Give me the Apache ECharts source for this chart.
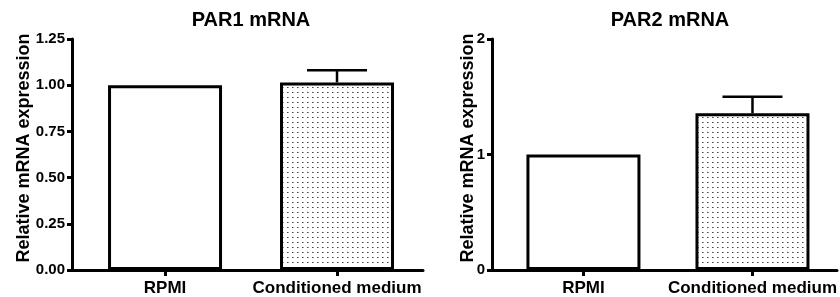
<!DOCTYPE html>
<html>
<head>
<meta charset="utf-8">
<script src="https://cdn.jsdelivr.net/npm/echarts@6/dist/echarts.min.js"></script>
<style>
html,body{margin:0;padding:0;background:#fff;}
#chart{width:840px;height:297px;}
</style>
</head>
<body>
<div id="chart"></div>
<script>
// ---- data ----
var categories = ['RPMI', 'Conditioned medium'];
var titles = ['PAR1 mRNA', 'PAR2 mRNA'];
var yAxisName = 'Relative mRNA expression';
var par1Means = [1.0, 1.015];
var par1Errs = [0, 0.066];
var par2Means = [1.0, 1.357];
var par2Errs = [0, 0.143];
var par1Ticks = { min: 0, max: 1.25, interval: 0.25, decimals: 2 };
var par2Ticks = { min: 0, max: 2, interval: 1, decimals: 0 };

// ---- dotted pattern ----
function makePattern() {
  var c = document.createElement('canvas');
  c.width = 5; c.height = 5;
  var ctx = c.getContext('2d');
  ctx.fillStyle = '#ffffff';
  ctx.fillRect(0, 0, 5, 5);
  ctx.fillStyle = '#444444';
  ctx.fillRect(2, 2, 1, 1);
  ctx.fillStyle = '#999999';
  ctx.fillRect(3, 2, 1, 1);
  return c;
}
var pattern = { image: makePattern(), repeat: 'repeat' };
var fills = ['#ffffff', pattern];

var FONT = "'Liberation Sans', Arial, sans-serif";

function barData(means) {
  return means.map(function (v, i) {
    return { value: [i, v], itemStyle: { color: fills[i] } };
  });
}
function errData(means, errs) {
  return means.map(function (v, i) { return [i, v, errs[i]]; });
}
function renderErr(params, api) {
  var x = api.value(0), m = api.value(1), e = api.value(2);
  if (!e) return null;
  var base = api.coord([x, m]);
  var top = api.coord([x, m + e]);
  var st = { stroke: '#000', lineWidth: 2.5 };
  return {
    type: 'group',
    children: [
      { type: 'line', shape: { x1: base[0], y1: base[1], x2: top[0], y2: top[1] }, style: st },
      { type: 'line', shape: { x1: top[0] - 30, y1: top[1], x2: top[0] + 30, y2: top[1] }, style: st }
    ]
  };
}

function xAxisDef(gridIndex) {
  return {
    type: 'value', gridIndex: gridIndex, min: -0.541, max: 1.5,
    splitLine: { show: false },
    axisLine: { show: true, onZero: false, lineStyle: { color: '#000', width: 3 } },
    axisTick: { show: true, customValues: [0, 1], length: 6, lineStyle: { color: '#000', width: 3 } },
    axisLabel: {
      customValues: [0, 1], margin: 10,
      formatter: function (v) { return categories[Math.round(v)]; },
      color: '#000', fontSize: 17, fontWeight: 'bold', fontFamily: FONT
    }
  };
}
function yAxisDef(gridIndex, t, nameGap) {
  return {
    type: 'value', gridIndex: gridIndex, min: t.min, max: t.max, interval: t.interval,
    name: yAxisName, nameLocation: 'middle', nameGap: nameGap, nameMoveOverlap: false,
    nameTextStyle: { color: '#000', fontSize: 18, fontWeight: 'bold', fontFamily: FONT, padding: [0, 0, 0, 13] },
    splitLine: { show: false },
    axisLine: { show: true, onZero: false, lineStyle: { color: '#000', width: 3 } },
    axisTick: { show: true, length: 5, lineStyle: { color: '#000', width: 3 } },
    axisLabel: {
      margin: 7,
      formatter: function (v) { return v.toFixed(t.decimals); },
      color: '#000', fontSize: 15, fontWeight: 'bold', fontFamily: FONT
    }
  };
}

var chart = echarts.init(document.getElementById('chart'), null, { renderer: 'canvas' });
chart.setOption({
  animation: false,
  backgroundColor: '#ffffff',
  title: [
    { text: titles[0], left: 251, top: 10, textAlign: 'center', padding: 0,
      textStyle: { color: '#000', fontSize: 20, fontWeight: 'bold', fontFamily: FONT } },
    { text: titles[1], left: 670, top: 10, textAlign: 'center', padding: 0,
      textStyle: { color: '#000', fontSize: 20, fontWeight: 'bold', fontFamily: FONT } }
  ],
  grid: [
    { left: 72, top: 39, width: 351, height: 231 },
    { left: 492, top: 39, width: 351, height: 231 }
  ],
  xAxis: [xAxisDef(0), xAxisDef(1)],
  yAxis: [yAxisDef(0, par1Ticks, 39), yAxisDef(1, par2Ticks, 15)],
  series: [
    { type: 'bar', xAxisIndex: 0, yAxisIndex: 0, barWidth: 114,
      itemStyle: { borderColor: '#000', borderWidth: 3 },
      data: barData(par1Means) },
    { type: 'custom', xAxisIndex: 0, yAxisIndex: 0, renderItem: renderErr, z: 3,
      data: errData(par1Means, par1Errs) },
    { type: 'bar', xAxisIndex: 1, yAxisIndex: 1, barWidth: 114,
      itemStyle: { borderColor: '#000', borderWidth: 3 },
      data: barData(par2Means) },
    { type: 'custom', xAxisIndex: 1, yAxisIndex: 1, renderItem: renderErr, z: 3,
      data: errData(par2Means, par2Errs) }
  ]
});
</script>
</body>
</html>
